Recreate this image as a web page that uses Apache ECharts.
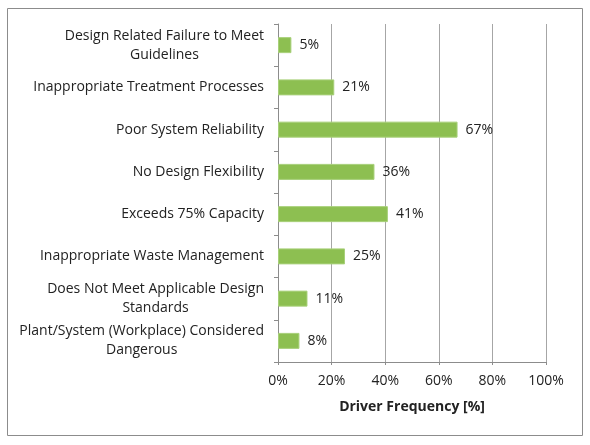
<!DOCTYPE html>
<html><head><meta charset="utf-8">
<script src="https://cdn.jsdelivr.net/npm/echarts@6/dist/echarts.min.js"></script>
<style>html,body{margin:0;padding:0;background:#fff}#c{width:590px;height:445px}</style>
</head><body><div id="c"></div>
<script>
var categories = [
  'Design Related Failure to Meet\nGuidelines',
  'Inappropriate Treatment Processes',
  'Poor System Reliability',
  'No Design Flexibility',
  'Exceeds 75% Capacity',
  'Inappropriate Waste Management',
  'Does Not Meet Applicable Design\nStandards',
  'Plant/System (Workplace) Considered\nDangerous'
];
var values = [5, 21, 67, 36, 41, 25, 11, 8];
var xTicks = [0, 20, 40, 60, 80, 100];
var axisTitle = 'Driver Frequency [%]';

var FONT = 'Open Sans';
var FS = 14;
var chart = echarts.init(document.getElementById('c'));
chart.setOption({
  animation: false,
  textStyle: {fontFamily: FONT},
  graphic: [{type: 'rect', shape: {x: 7.5, y: 8.5, width: 575, height: 427},
    style: {fill: 'none', stroke: '#8c8c8c', lineWidth: 1}}],
  grid: {left: 278, right: 44, top: 24, bottom: 83},
  xAxis: {
    type: 'value', min: xTicks[0], max: xTicks[xTicks.length - 1], interval: 20,
    name: axisTitle, nameLocation: 'middle', nameGap: 38,
    nameTextStyle: {fontFamily: FONT, fontSize: FS, fontWeight: 'bold', color: '#222'},
    axisLine: {show: true, lineStyle: {color: '#8c8c8c'}},
    axisTick: {show: true, length: 3, lineStyle: {color: '#8c8c8c'}},
    axisLabel: {formatter: '{value}%', fontSize: FS, color: '#222', margin: 12},
    splitLine: {show: true, lineStyle: {color: '#a6a6a6'}}
  },
  yAxis: {
    type: 'category', data: categories, inverse: true,
    axisLine: {show: true, lineStyle: {color: '#8c8c8c'}},
    axisTick: {show: true, length: 4, lineStyle: {color: '#8c8c8c'}},
    axisLabel: {
      margin: 14, color: '#222', fontSize: FS, lineHeight: 19,
      formatter: function (v) { return v.split('\n').map(function (l) { return '{c|' + l + '}'; }).join('\n'); },
      rich: {c: {align: 'center', fontSize: FS, lineHeight: 19, color: '#222', fontFamily: FONT}}
    }
  },
  series: [{
    type: 'bar', data: values, barWidth: 16,
    itemStyle: {color: '#8dbf51', borderColor: '#a8d07a', borderWidth: 1},
    label: {show: true, position: 'right', distance: 8, formatter: '{c}%', fontSize: FS, color: '#222', fontFamily: FONT}
  }]
});
</script></body></html>
